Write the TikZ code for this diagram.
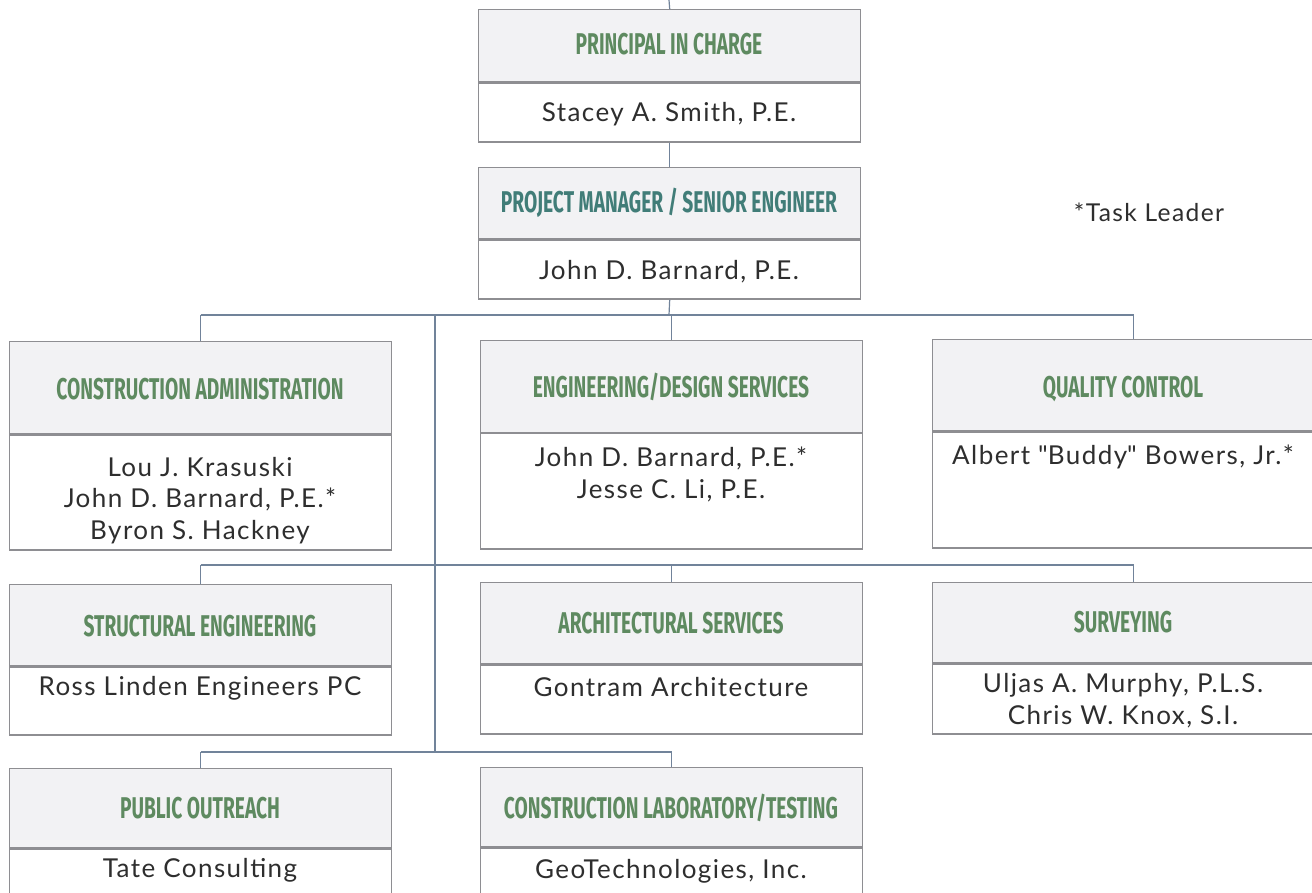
\documentclass[tikz,border=0pt]{standalone}
\usepackage{fontspec}
\setmainfont[LetterSpace=5.5]{Lato}
\newfontfamily\hdfont[FakeStretch=0.64]{Fira Sans}
\definecolor{boxline}{HTML}{8E8E92}
\definecolor{hdrfill}{HTML}{F2F2F4}
\definecolor{hdrgreen}{HTML}{5E8A60}
\definecolor{hdrteal}{HTML}{417D78}
\definecolor{txt}{HTML}{2E2E2E}
\definecolor{connc}{HTML}{71839A}
\begin{document}
\begin{tikzpicture}[x=0.5pt,y=-0.5pt,
  hbox/.style={draw=boxline,fill=hdrfill,line width=0.7pt,anchor=north west,inner sep=0pt,minimum width=191pt},
  bbox/.style={draw=boxline,fill=white,line width=0.7pt,anchor=north,inner sep=0pt,minimum width=191pt},
  htxt/.style={anchor=base,inner sep=0pt,text=hdrgreen,font=\hdfont\bfseries\fontsize{15}{16}\selectfont},
  btxt/.style={anchor=north,inner sep=0pt,align=center,text=txt,font=\fontsize{13}{15.75}\selectfont},
  conn/.style={draw=connc,line width=0.6pt}]
\useasboundingbox (0,0) rectangle (1312,893);
\fill[white] (0,0) rectangle (1312,893);

% Principal in charge
\node[hbox,minimum height=36pt] (picH) at (478,9) {};
\node[bbox,minimum height=29.5pt] (picB) at (picH.south) {};
\node[htxt] (picHT) at (669,55) {PRINCIPAL IN CHARGE};
\node[btxt] (picBT) at (669,101.7) {Stacey A. Smith, P.E.};

% Project manager
\node[hbox,minimum height=35.5pt] (pmH) at (478,167) {};
\node[bbox,minimum height=29.5pt] (pmB) at (pmH.south) {};
\node[htxt,text=hdrteal] (pmHT) at (669,213) {PROJECT MANAGER / SENIOR ENGINEER};
\node[btxt] (pmBT) at (669,260) {John D. Barnard, P.E.};

% Construction administration
\node[hbox,minimum height=46pt] (caH) at (9,341) {};
\node[bbox,minimum height=57.5pt] (caB) at (caH.south) {};
\node[htxt] (caHT) at (200,400) {CONSTRUCTION ADMINISTRATION};
\node[btxt] (caBT) at (200,456.7) {Lou J. Krasuski\\John D. Barnard, P.E.*\\Byron S. Hackney};

% Engineering / design
\node[hbox,minimum height=45.75pt] (edsH) at (480,340) {};
\node[bbox,minimum height=57.75pt] (edsB) at (edsH.south) {};
\node[htxt] (edsHT) at (671,397) {ENGINEERING/DESIGN SERVICES};
\node[btxt] (edsBT) at (671,446.7) {John D. Barnard, P.E.*\\Jesse C. Li, P.E.};

% Quality control
\node[hbox,minimum height=45.5pt] (qcH) at (932,339) {};
\node[bbox,minimum height=58pt] (qcB) at (qcH.south) {};
\node[htxt] (qcHT) at (1123,397) {QUALITY CONTROL};
\node[btxt] (qcBT) at (1123,445) {Albert \textquotedbl Buddy\textquotedbl\ Bowers, Jr.*};

% Structural engineering
\node[hbox,minimum height=40.5pt] (seH) at (9,584) {};
\node[bbox,minimum height=34pt] (seB) at (seH.south) {};
\node[htxt] (seHT) at (200,636) {STRUCTURAL ENGINEERING};
\node[btxt] (seBT) at (200,676) {Ross Linden Engineers PC};

% Architectural services
\node[hbox,minimum height=40.5pt] (asH) at (480,582) {};
\node[bbox,minimum height=34.5pt] (asB) at (asH.south) {};
\node[htxt] (asHT) at (671,633) {ARCHITECTURAL SERVICES};
\node[btxt] (asBT) at (671,677) {Gontram Architecture};

% Surveying
\node[hbox,minimum height=40pt] (svH) at (932,582) {};
\node[bbox,minimum height=35pt] (svB) at (svH.south) {};
\node[htxt] (svHT) at (1123,632) {SURVEYING};
\node[btxt] (svBT) at (1123,673) {Uljas A. Murphy, P.L.S.\\Chris W. Knox, S.I.};

% Public outreach
\node[hbox,minimum height=39.5pt] (poH) at (9,768) {};
\node[bbox,minimum height=30pt] (poB) at (poH.south) {};
\node[htxt] (poHT) at (200,818) {PUBLIC OUTREACH};
\node[btxt] (poBT) at (200,858) {Tate Consulting};

% Construction laboratory
\node[hbox,minimum height=39.5pt] (cltH) at (480,767) {};
\node[bbox,minimum height=30pt] (cltB) at (cltH.south) {};
\node[htxt] (cltHT) at (671,818) {CONSTRUCTION LABORATORY/TESTING};
\node[btxt] (cltBT) at (671,859) {GeoTechnologies, Inc.};

% note
\node[anchor=base,inner sep=0pt,text=txt,font=\fontsize{12.3}{14}\selectfont] (note) at (1149,222) {*Task Leader};

% connectors
\coordinate (topend) at (669,0);
\coordinate (r1) at (669,315);
\coordinate (tr) at (435,315);
\coordinate (r2) at (435,565);
\coordinate (r3) at (435,752);
\draw[conn] (topend) -- (picH.north);
\draw[conn] (picB.south) -- (pmH.north);
\draw[conn] (pmB.south) -- (r1);
\draw[conn] (caH.north |- r1) -- ([xshift=5pt]qcH.north |- r1);
\draw[conn] (caH.north |- r1) -- (caH.north);
\draw[conn] (edsH.north |- r1) -- (edsH.north);
\draw[conn] ([xshift=5pt]qcH.north |- r1) -- ([xshift=5pt]qcH.north);
\draw[conn] (tr) -- (r3);
\draw[conn] (seH.north |- r2) -- ([xshift=5pt]svH.north |- r2);
\draw[conn] (seH.north |- r2) -- (seH.north);
\draw[conn] (asH.north |- r2) -- (asH.north);
\draw[conn] ([xshift=5pt]svH.north |- r2) -- ([xshift=5pt]svH.north);
\draw[conn] (poH.north |- r3) -- (cltH.north |- r3);
\draw[conn] (poH.north |- r3) -- (poH.north);
\draw[conn] (cltH.north |- r3) -- (cltH.north);
\end{tikzpicture}
\end{document}
